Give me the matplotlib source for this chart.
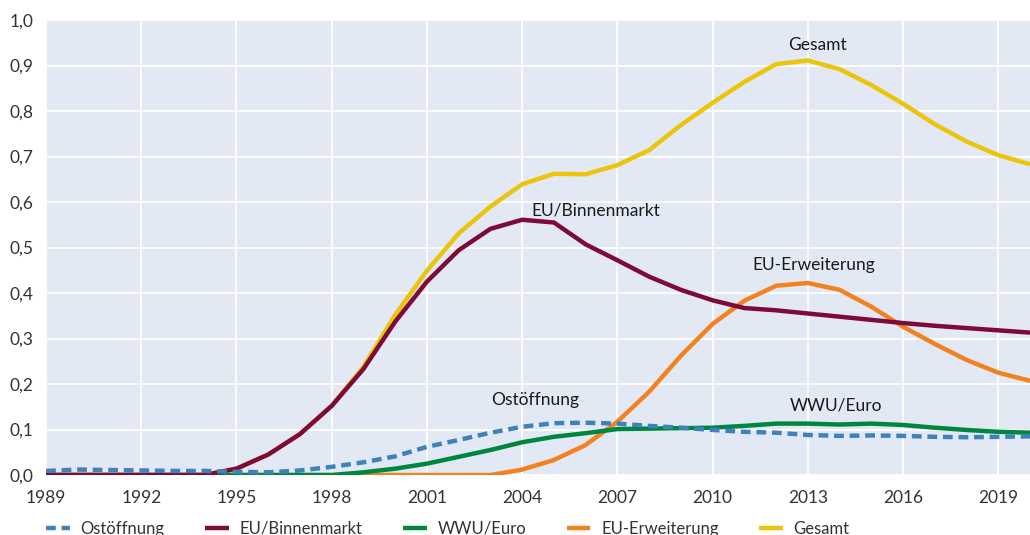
import numpy as np
import matplotlib
matplotlib.use("Agg")
import matplotlib.pyplot as plt
from matplotlib.ticker import FuncFormatter

years = np.arange(1989, 2021)

ostoeffnung = [0.009, 0.012, 0.011, 0.010, 0.009, 0.009, 0.007, 0.006, 0.010, 0.018,
               0.028, 0.041, 0.062, 0.077, 0.093, 0.106, 0.114, 0.115, 0.113, 0.108,
               0.104, 0.099, 0.095, 0.093, 0.088, 0.086, 0.087, 0.086, 0.084, 0.083,
               0.084, 0.085]
binnenmarkt = [0.0, 0.0, 0.0, 0.0, 0.0, 0.0, 0.014, 0.045, 0.09, 0.152,
               0.233, 0.337, 0.425, 0.494, 0.541, 0.561, 0.555, 0.507, 0.472, 0.436,
               0.407, 0.384, 0.367, 0.362, 0.355, 0.348, 0.341, 0.334, 0.328, 0.323,
               0.318, 0.313]
wwu_euro = [0.0, 0.0, 0.0, 0.0, 0.0, 0.0, 0.0, 0.0, 0.0, 0.0,
            0.006, 0.014, 0.025, 0.040, 0.055, 0.072, 0.084, 0.092, 0.101, 0.102,
            0.103, 0.104, 0.108, 0.113, 0.113, 0.111, 0.113, 0.110, 0.104, 0.099,
            0.095, 0.093]
erweiterung = [0.0, 0.0, 0.0, 0.0, 0.0, 0.0, 0.0, 0.0, 0.0, 0.0,
               0.0, 0.0, 0.0, 0.0, 0.0, 0.012, 0.033, 0.066, 0.117, 0.183,
               0.262, 0.332, 0.383, 0.416, 0.422, 0.407, 0.370, 0.326, 0.288, 0.253,
               0.225, 0.207]
gesamt = [0.0, 0.0, 0.0, 0.0, 0.0, 0.0, 0.014, 0.045, 0.09, 0.152,
          0.238, 0.352, 0.449, 0.531, 0.590, 0.639, 0.662, 0.661, 0.681, 0.714,
          0.769, 0.818, 0.864, 0.903, 0.911, 0.892, 0.857, 0.816, 0.771, 0.733,
          0.703, 0.683]

series = [
    ("Ostöffnung", ostoeffnung, "#3E82BC", (0, (2.2, 1.3))),
    ("EU/Binnenmarkt", binnenmarkt, "#7D0A3A", "-"),
    ("WWU/Euro", wwu_euro, "#00873F", "-"),
    ("EU-Erweiterung", erweiterung, "#F2821F", "-"),
    ("Gesamt", gesamt, "#EBC40C", "-"),
]

# label positions (data coords)
labels = [
    ("Gesamt", 2013.3, 0.945, "center"),
    ("EU/Binnenmarkt", 2004.3, 0.582, "left"),
    ("EU-Erweiterung", 2013.2, 0.462, "center"),
    ("Ostöffnung", 2004.4, 0.165, "center"),
    ("WWU/Euro", 2013.9, 0.152, "center"),
]

plt.rcParams["font.family"] = ["Lato", "DejaVu Sans"]

fig = plt.figure(figsize=(10.3, 5.35), dpi=100)
ax = fig.add_axes([0.0447, 0.1121, 0.9553, 0.8505])
ax.set_facecolor("#E3E9F4")

# draw back to front so Gesamt sits under Binnenmarkt like the original
order = [4, 3, 2, 1, 0]
handles = {}
for i in order:
    name, vals, col, ls = series[i]
    (h,) = ax.plot(years, vals, color=col, lw=3.2, ls=ls, label=name,
                   solid_capstyle="butt", dash_capstyle="butt", zorder=3 + (4 - i) * 0.1)
    handles[name] = h

for txt, x, y, ha in labels:
    ax.text(x, y, txt, ha=ha, va="center", fontsize=12.5, color="#1a1a1a")

ax.set_xlim(1989, 2020)
ax.set_ylim(0, 1.0)
ax.set_xticks(np.arange(1989, 2020, 3))
ax.set_yticks(np.arange(0, 1.01, 0.1))
ax.yaxis.set_major_formatter(FuncFormatter(lambda v, p: f"{v:.1f}".replace(".", ",")))
ax.grid(True, color="white", lw=1.3)
ax.set_axisbelow(True)
for s in ax.spines.values():
    s.set_visible(False)
ax.tick_params(length=0, labelsize=12.5, colors="#333333")
ax.tick_params(axis="x", pad=11)
ax.tick_params(axis="y", pad=9)

ax.legend([handles[s[0]] for s in series], [s[0] for s in series],
          loc="center left", bbox_to_anchor=(0.045, 0.012), bbox_transform=fig.transFigure,
          ncol=5, frameon=False, fontsize=12, handlelength=1.4, columnspacing=2.45,
          handletextpad=0.65, borderpad=0, borderaxespad=0, labelcolor="#333333")

fig.savefig("out.png", dpi=100)
